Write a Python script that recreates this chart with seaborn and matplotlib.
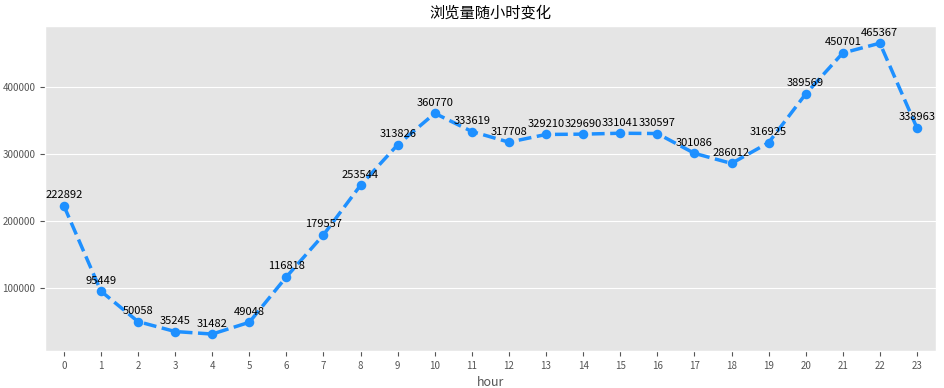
import matplotlib
matplotlib.use("Agg")
import matplotlib.pyplot as plt
import seaborn as sns
import pandas as pd

hours = list(range(24))
views = [222892, 95449, 50058, 35245, 31482, 49048, 116818, 179557, 253544, 313826,
         360770, 333619, 317708, 329210, 329690, 331041, 330597, 301086, 286012, 316925,
         389569, 450701, 465367, 338963]

plt.style.use("ggplot")
plt.rcParams["font.family"] = ["Noto Sans CJK SC", "DejaVu Sans"]
plt.rcParams["axes.unicode_minus"] = False

df = pd.DataFrame({"hour": hours, "views": views})

fig, ax = plt.subplots(figsize=(9.44, 3.88), dpi=100)
fig.subplots_adjust(left=0.048, right=0.991, top=0.933, bottom=0.095)

sns.pointplot(data=df, x="hour", y="views", color="dodgerblue", linestyle="--",
              markers="o", linewidth=2.5, markersize=5, ax=ax)

# value labels above each point
for i, v in enumerate(views):
    ax.annotate(str(v), (i, v), xytext=(0, 4), textcoords="offset points",
                ha="center", va="bottom", fontsize=8, color="black")

ax.set_title("浏览量随小时变化", fontsize=11)
ax.set_xlabel("hour", fontsize=9)
ax.set_ylabel("")
ax.set_ylim(6000, 491000)
ax.set_xlim(-0.5, 23.5)
ax.tick_params(labelsize=7)
ax.xaxis.grid(False)

plt.savefig("out.png", dpi=100)
